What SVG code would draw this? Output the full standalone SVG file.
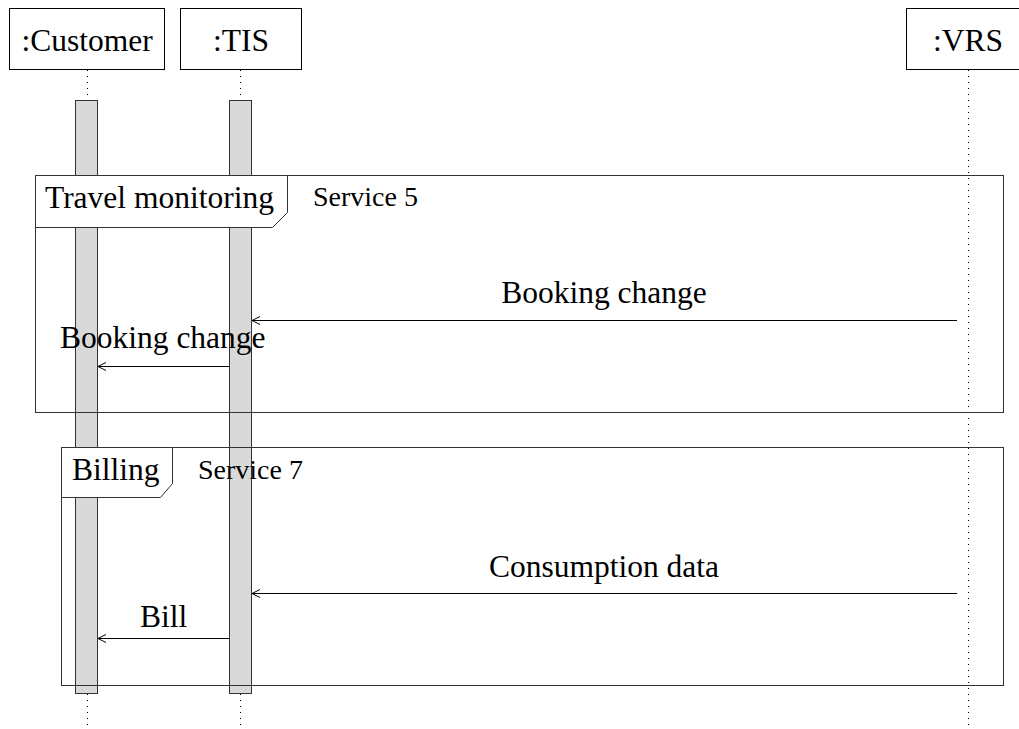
<svg xmlns="http://www.w3.org/2000/svg" width="1019" height="729" viewBox="0 0 1019 729">
<defs>
<style>
text{font-family:"Liberation Serif","Times New Roman",serif;fill:#000}
.big{font-size:31.5px}
.small{font-size:28px}
.box{fill:#fff;stroke:#000;stroke-width:1}
.life{stroke:#000;stroke-width:1;stroke-dasharray:1 5;fill:none}
.bar{fill:#d9d9d9;stroke:#333;stroke-width:1}
.frame{fill:none;stroke:#333;stroke-width:1}
.tab{fill:#fff;stroke:#333;stroke-width:1}
.msg{stroke:#000;stroke-width:1;fill:none;marker-end:url(#open)}
</style>
<marker id="open" viewBox="0 0 10 10" refX="9" refY="5" markerWidth="10" markerHeight="10" markerUnits="userSpaceOnUse" orient="auto">
<path d="M1,1 L9,5 L1,9" fill="none" stroke="#000" stroke-width="1"/>
</marker>
</defs>

<g id="lifelines">
<line class="life" x1="87.5" y1="70" x2="87.5" y2="729"/>
<line class="life" x1="240.5" y1="70" x2="240.5" y2="729"/>
<line class="life" x1="968.5" y1="70" x2="968.5" y2="729"/>
</g>

<g id="customer">
<rect class="box" x="9.5" y="8.5" width="155" height="61"/>
<text class="big" x="87" y="51" text-anchor="middle">:Customer</text>
<rect class="bar" x="75.5" y="100.5" width="22" height="593"/>
</g>

<g id="tis">
<rect class="box" x="180.5" y="8.5" width="121" height="61"/>
<text class="big" x="241" y="51" text-anchor="middle">:TIS</text>
<rect class="bar" x="229.5" y="100.5" width="22" height="593"/>
</g>

<g id="vrs">
<rect class="box" x="906.5" y="8.5" width="125" height="61"/>
<text class="big" x="968" y="51" text-anchor="middle">:VRS</text>
</g>

<g id="frame-travel">
<rect class="frame" x="35.5" y="175.5" width="968" height="237"/>
<path class="tab" d="M35.5,175.5 H287.5 V212.5 L272.5,227.5 H35.5 Z"/>
<text class="big" x="45" y="208">Travel monitoring</text>
<text class="small" x="313" y="206">Service 5</text>
</g>

<g id="frame-billing">
<rect class="frame" x="61.5" y="447.5" width="942" height="238"/>
<path class="tab" d="M61.5,447.5 H172.5 V483.5 L160.5,497.5 H61.5 Z"/>
<text class="big" x="72" y="480">Billing</text>
<text class="small" x="198" y="479">Service 7</text>
</g>

<g id="connectors">
<line class="msg" x1="957" y1="320.5" x2="252" y2="320.5"/>
<text class="big" x="604" y="303" text-anchor="middle">Booking change</text>
<line class="msg" x1="229" y1="366.5" x2="98" y2="366.5"/>
<text class="big" x="60" y="348">Booking change</text>
<line class="msg" x1="957" y1="593.5" x2="252" y2="593.5"/>
<text class="big" x="604" y="577" text-anchor="middle">Consumption data</text>
<line class="msg" x1="229" y1="638.5" x2="98" y2="638.5"/>
<text class="big" x="140" y="627">Bill</text>
</g>
</svg>
